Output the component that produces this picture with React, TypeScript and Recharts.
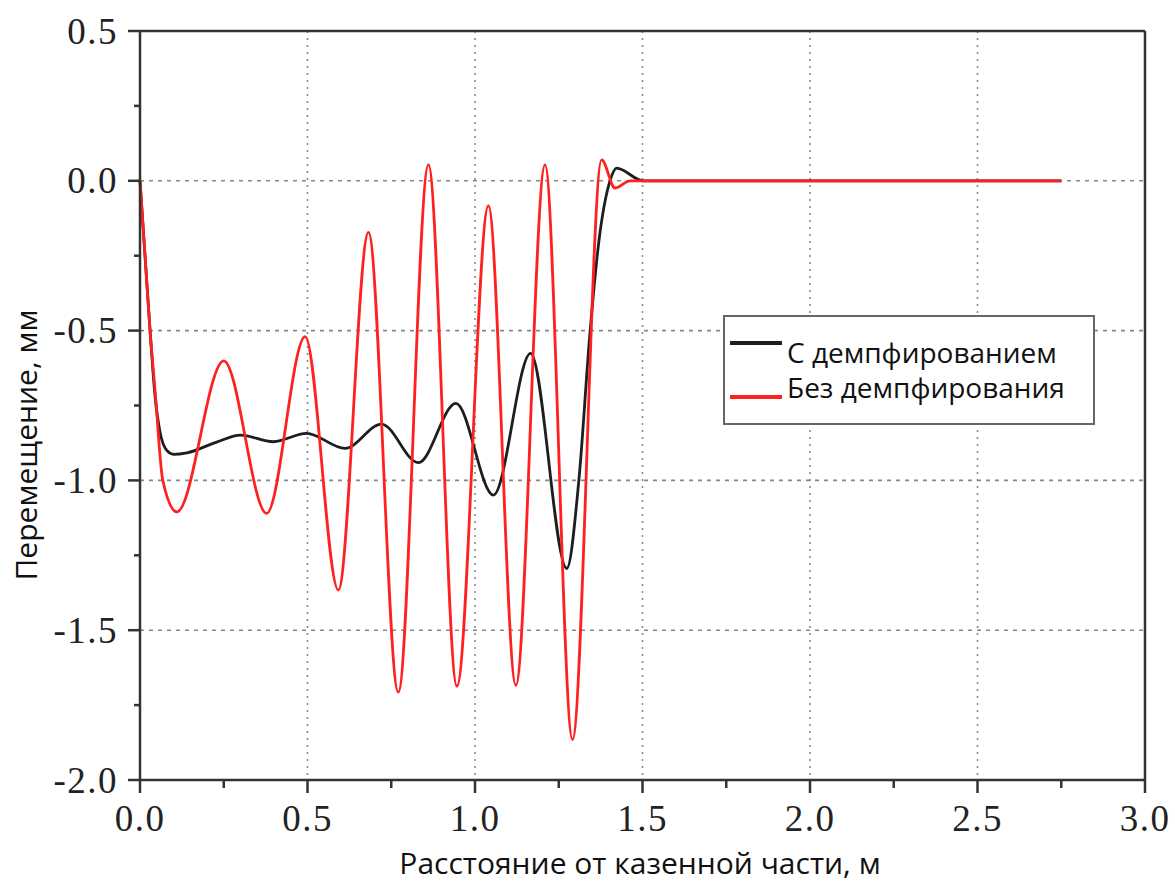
import React from "react";
import {
  CartesianGrid,
  Legend,
  Line,
  LineChart,
  XAxis,
  YAxis,
} from "recharts";

// Displacement along the barrel, mm
const dampedPoints: [number, number][] = [
  [0, 0], [0.015, -0.25], [0.03, -0.5], [0.045, -0.72], [0.06, -0.84],
  [0.08, -0.9], [0.1, -0.913], [0.14, -0.908], [0.229, -0.872], [0.3, -0.849],
  [0.398, -0.871], [0.497, -0.843], [0.612, -0.893], [0.721, -0.812],
  [0.831, -0.941], [0.943, -0.743], [1.055, -1.049], [1.166, -0.576],
  [1.274, -1.294], [1.31, -1.0], [1.343, -0.51], [1.37, -0.2], [1.403, 0],
  [1.423, 0.042], [1.502, 0], [2.75, 0],
];

const undampedPoints: [number, number][] = [
  [0, 0], [0.015, -0.25], [0.03, -0.5], [0.045, -0.7], [0.068, -1.0],
  [0.11, -1.105], [0.25, -0.601], [0.378, -1.11], [0.493, -0.52],
  [0.592, -1.366], [0.682, -0.172], [0.771, -1.707], [0.861, 0.053],
  [0.946, -1.687], [1.04, -0.084], [1.122, -1.684], [1.209, 0.053],
  [1.291, -1.865], [1.378, 0.07], [1.418, -0.024], [1.463, 0], [2.75, 0],
];

const xTicks = [0, 0.25, 0.5, 0.75, 1, 1.25, 1.5, 1.75, 2, 2.25, 2.5, 2.75, 3];
const yTicks = [-2, -1.75, -1.5, -1.25, -1, -0.75, -0.5, -0.25, 0, 0.25, 0.5];
const xGrid = [0.5, 1, 1.5, 2, 2.5];
const yGrid = [0, -0.5, -1, -1.5];

const dampedName = "С демпфированием";
const undampedName = "Без демпфирования";
const legendOrder = [dampedName, undampedName];

const toRows = (pts: [number, number][]) => pts.map(([x, y]) => ({ x, y }));

const AXIS = "#333";
const SERIF = "'Liberation Serif', 'Times New Roman', serif";
const SANS = "'Open Sans', 'Noto Sans', sans-serif";

const isMajor = (v: number) => Math.abs(v * 2 - Math.round(v * 2)) < 1e-6;
const fmt = (v: number) => (Math.abs(v) < 1e-9 ? "0.0" : v.toFixed(1));

function LeftTick({ x, y, payload }: any) {
  const major = isMajor(payload.value);
  const len = major ? 12 : 6;
  return (
    <g>
      <line x1={x - len} x2={x} y1={y} y2={y} stroke={AXIS} strokeWidth={2.5} />
      {major && (
        <text
          x={x - 22}
          y={y}
          textAnchor="end"
          dominantBaseline="central"
          fontFamily={SERIF}
          fontSize={37}
          letterSpacing={1.5}
          fill="#222"
        >
          {fmt(payload.value)}
        </text>
      )}
    </g>
  );
}

function BottomTick({ x, y, payload }: any) {
  const major = isMajor(payload.value);
  const len = major ? 13 : 8;
  return (
    <g>
      <line x1={x} x2={x} y1={y} y2={y + len} stroke={AXIS} strokeWidth={2.5} />
      {major && (
        <text
          x={x}
          y={y + 38}
          textAnchor="middle"
          dominantBaseline="central"
          fontFamily={SERIF}
          fontSize={37}
          letterSpacing={1.5}
          fill="#222"
        >
          {fmt(payload.value)}
        </text>
      )}
    </g>
  );
}

function TopTick({ x, y, payload }: any) {
  const len = isMajor(payload.value) ? 9 : 7;
  return <line x1={x} x2={x} y1={y} y2={y + len} stroke={AXIS} strokeWidth={2.5} />;
}

function LegendBox({ payload }: any) {
  const rows = legendOrder
    .map((name) => (payload ?? []).find((p: any) => p.value === name))
    .filter(Boolean);
  return (
    <svg width={372} height={110} style={{ display: "block" }}>
      <rect x={1} y={1} width={370} height={108} fill="#fff" stroke="#666" strokeWidth={2} />
      {rows.map((entry: any, i: number) => {
        const lineY = i === 0 ? 28 : 82;
        const textY = i === 0 ? 48 : 83;
        return (
          <g key={entry.value}>
            <line x1={7} x2={59} y1={lineY} y2={lineY} stroke={entry.color} strokeWidth={4} />
            <text x={64} y={textY} fontFamily={SANS} fontSize={28} fill="#111">
              {entry.value}
            </text>
          </g>
        );
      })}
    </svg>
  );
}

export default function App() {
  return (
    <div style={{ position: "absolute", left: 0, top: 0, background: "#fff" }}>
      <LineChart
        width={1175}
        height={883}
        margin={{ top: 30, right: 29, bottom: 0, left: 0 }}
      >
        <CartesianGrid
          xAxisId="bottom"
          yAxisId="left"
          horizontal={false}
          verticalValues={xGrid}
          stroke="#888"
          strokeWidth={1.6}
          strokeDasharray="2 5"
        />
        <CartesianGrid
          xAxisId="bottom"
          yAxisId="left"
          vertical={false}
          horizontalValues={yGrid}
          stroke="#888"
          strokeWidth={1.6}
          strokeDasharray="4 5"
        />
        <XAxis
          xAxisId="bottom"
          type="number"
          dataKey="x"
          domain={[0, 3]}
          ticks={xTicks}
          interval={0}
          height={103}
          tickSize={0}
          tickMargin={0}
          tickLine={false}
          tick={<BottomTick />}
          axisLine={{ stroke: AXIS, strokeWidth: 2.5 }}
          label={() => (
            <text x={640} y={874} textAnchor="middle" fontFamily={SANS} fontSize={30} fill="#111">
              Расстояние от казенной части, м
            </text>
          )}
        />
        <XAxis
          xAxisId="top"
          orientation="top"
          type="number"
          dataKey="x"
          domain={[0, 3]}
          ticks={xTicks}
          interval={0}
          height={1}
          tickSize={0}
          tickMargin={0}
          tickLine={false}
          tick={<TopTick />}
          axisLine={{ stroke: AXIS, strokeWidth: 2.5 }}
        />
        <YAxis
          yAxisId="left"
          type="number"
          domain={[-2, 0.5]}
          ticks={yTicks}
          interval={0}
          width={140}
          tickSize={0}
          tickMargin={0}
          tickLine={false}
          tick={<LeftTick />}
          axisLine={{ stroke: AXIS, strokeWidth: 2.5 }}
          label={() => (
            <text
              x={25}
              y={445}
              transform="rotate(-90 25 445)"
              textAnchor="middle"
              dominantBaseline="central"
              fontFamily={SANS}
              fontSize={30}
              fill="#111"
            >
              Перемещение, мм
            </text>
          )}
        />
        <YAxis
          yAxisId="right"
          orientation="right"
          type="number"
          domain={[-2, 0.5]}
          width={1}
          tick={false}
          tickLine={false}
          axisLine={{ stroke: AXIS, strokeWidth: 2.5 }}
        />
        <Legend
          layout="vertical"
          align="center"
          verticalAlign="middle"
          width={372}
          height={110}
          wrapperStyle={{ left: 723, top: 315, width: 372, height: 110 }}
          content={<LegendBox />}
        />
        <Line
          xAxisId="bottom"
          yAxisId="left"
          data={toRows(dampedPoints)}
          dataKey="y"
          name={dampedName}
          type="monotone"
          stroke="#1e1e1e"
          strokeWidth={2.8}
          dot={false}
          isAnimationActive={false}
        />
        <Line
          xAxisId="bottom"
          yAxisId="left"
          data={toRows(undampedPoints)}
          dataKey="y"
          name={undampedName}
          type="monotone"
          stroke="#ff2020"
          strokeWidth={2.8}
          dot={false}
          isAnimationActive={false}
        />
      </LineChart>
    </div>
  );
}
